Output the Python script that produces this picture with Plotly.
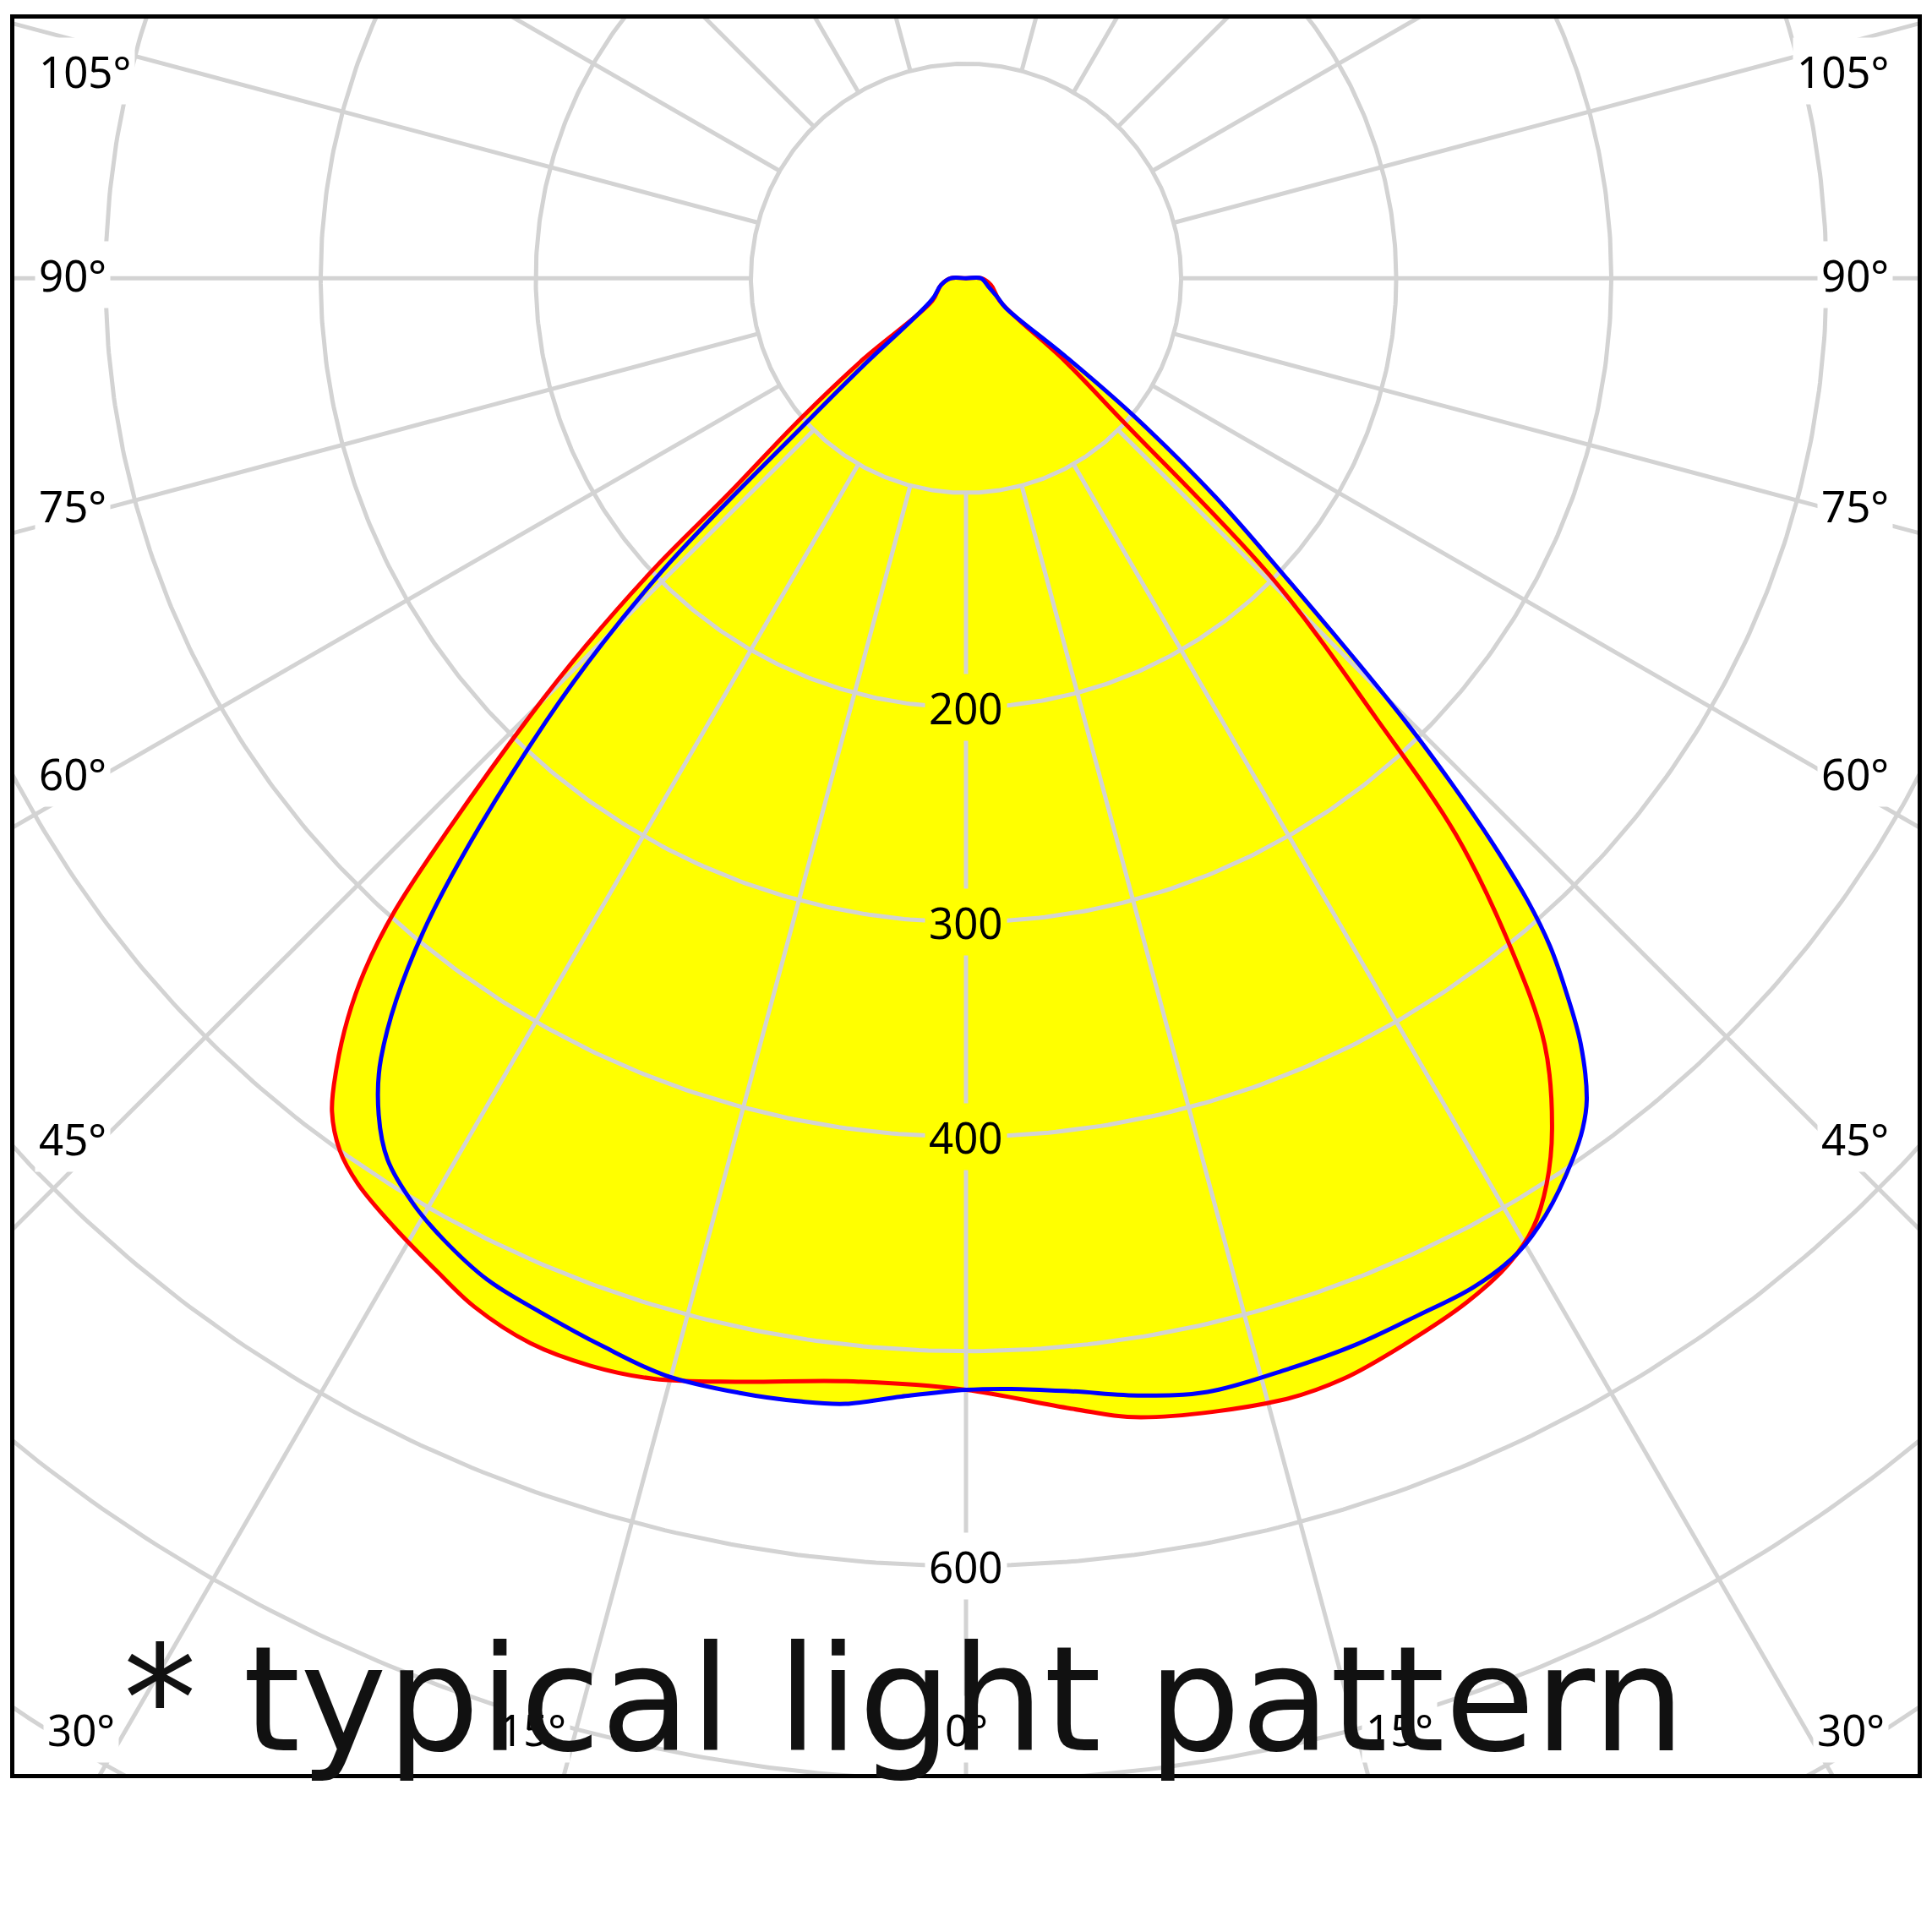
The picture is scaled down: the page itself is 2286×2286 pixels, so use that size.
import numpy as np
import plotly.graph_objects as go

# ---- luminous intensity data (cd/klm); angle from nadir in degrees, negative = left half ----
red_angle = [-180, -90, -75, -56, -51.7, -49.6, -47.7, -47.0, -45.9, -44.8, -43.15, -42.0, -40.9,
             -39.8, -38.5, -37.2, -35.6, -33.8, -31.0, -28.0, -25.5, -22.2, -19.0, -15.8, -11.6, -6.2, 0,
             5.3, 8.7, 15.7, 18.9, 22.3, 26.0, 28.8, 30.8, 32.6, 34.5, 37.0, 39.1, 41.3, 42.9,
             45.5, 47.6, 50.0, 56, 75, 90, 180]
red_cd = [0, 7, 12, 19, 61, 101, 149, 197, 246, 288, 351, 397, 427,
          449, 470, 487.5, 500, 508, 516, 524, 531, 536, 536, 533, 525, 517, 518,
          529, 537, 543, 542, 537, 531, 524, 515, 501, 481, 447, 401, 345, 281,
          200.6, 98, 60, 19, 12, 7, 0]

blue_angle = [-180, -90, -75, -58, -49.5, -47.8, -45.9, -43.4, -39.6, -36.8, -35.0, -33.2, -30.8,
              -28.5, -25.5, -22.2, -18.7, -15.3, -11.5, -8.3, -6.1, -3.3, 0,
              2.3, 5.4, 8.9, 12.2, 16.1, 20.0, 23.5, 26.7, 29.5, 31.7, 34.5, 35.9, 37.0, 38.7, 40.0,
              41.1, 42.0, 42.9, 43.8, 44.7, 47.0, 48.7, 50.6, 51.8, 53.3, 59, 70, 90, 180]
blue_cd = [0, 7, 12, 18.5, 63.5, 101, 200, 284, 396.5, 454, 476, 491, 502,
           509.5, 517, 521, 525.6, 530, 530, 529, 527.5, 522, 518,
           518, 521, 527, 531, 530, 529, 527, 526, 521.5, 513, 498, 489, 479.5, 457, 434,
           413, 390, 360, 326, 290, 199, 154, 100, 58.5, 23, 17, 11, 7, 0]

# ---- grid / ticks ----
grid_radii = [100, 200, 300, 400, 500, 600, 700, 800]
grid_angles = list(range(-165, 166, 15))
radial_tick_values = [200, 300, 400, 600]
radial_tick_bg = ["#FFFF00", "#FFFF00", "#FFFF00", "#FFFFFF"]
side_labels = ["105°", "90°", "75°", "60°", "45°"]
side_label_y = [96.5, 1.5, -105.8, -230.7, -401.0]
bottom_labels = ["30°", "15°", "0°", "15°", "30°"]
bottom_label_x = [-411.5, -201.5, 0, 201.5, 411.5]
bottom_label_y = -676.0
caption = "* typical light pattern"

YELLOW = "#FFFF00"
GRID = "#d3d3d3"
LABEL_FONT = dict(family="Noto Sans, DejaVu Sans, sans-serif", size=51, color="#000000")


def to_xy(angles, values):
    a = np.radians(np.asarray(angles, dtype=float))
    r = np.asarray(values, dtype=float)
    return r * np.sin(a), -r * np.cos(a)


rx, ry = to_xy(red_angle, red_cd)
bx, by = to_xy(blue_angle, blue_cd)

fig = go.Figure()

# yellow fill (union of both planes)
for x, y in [(rx, ry), (bx, by)]:
    fig.add_trace(go.Scatter(x=x, y=y, mode="lines", fill="toself", fillcolor=YELLOW,
                             line=dict(width=0, shape="spline", color=YELLOW),
                             hoverinfo="skip", showlegend=False))

# grid lines on top of the fill
gx, gy = [], []
t = np.linspace(0, 2 * np.pi, 721)
for rad in grid_radii:
    gx += list(rad * np.cos(t)) + [None]
    gy += list(rad * np.sin(t)) + [None]
for ang in grid_angles:
    cx, cy = to_xy([ang, ang], [100, 1000])
    gx += list(cx) + [None]
    gy += list(cy) + [None]
fig.add_trace(go.Scatter(x=gx, y=gy, mode="lines", line=dict(color=GRID, width=5),
                         hoverinfo="skip", showlegend=False, connectgaps=False))

# intensity curves
fig.add_trace(go.Scatter(x=rx, y=ry, mode="lines", line=dict(color="#FF0000", width=5, shape="spline"),
                         name="C0-C180", showlegend=False))
fig.add_trace(go.Scatter(x=bx, y=by, mode="lines", line=dict(color="#0000FF", width=5, shape="spline"),
                         name="C90-C270", showlegend=False))

annotations = []
for v, bg in zip(radial_tick_values, radial_tick_bg):
    annotations.append(dict(x=0, y=-v, xref="x", yref="y", text=str(v), showarrow=False,
                            font=LABEL_FONT, bgcolor=bg, borderpad=4,
                            xanchor="center", yanchor="middle"))
for txt, yv in zip(side_labels, side_label_y):
    annotations.append(dict(x=-433.0, y=yv, xref="x", yref="y", text=txt, showarrow=False,
                            font=LABEL_FONT, bgcolor="#FFFFFF", borderpad=4,
                            xanchor="left", yanchor="middle"))
    annotations.append(dict(x=431.0, y=yv, xref="x", yref="y", text=txt, showarrow=False,
                            font=LABEL_FONT, bgcolor="#FFFFFF", borderpad=4,
                            xanchor="right", yanchor="middle"))
for txt, xv in zip(bottom_labels, bottom_label_x):
    annotations.append(dict(x=xv, y=bottom_label_y, xref="x", yref="y", text=txt, showarrow=False,
                            font=LABEL_FONT, bgcolor="#FFFFFF", borderpad=4,
                            xanchor="center", yanchor="middle"))
annotations.append(dict(x=-392.5, y=-662.5, xref="x", yref="y", text=caption, showarrow=False,
                        font=dict(family="DejaVu Sans, sans-serif", size=173, color="#111111"),
                        xanchor="left", yanchor="middle"))

axis_common = dict(showgrid=False, zeroline=False, showticklabels=False, ticks="",
                   showline=True, mirror=True, linecolor="#000000", linewidth=5, fixedrange=True)
# page body has an 8 px default margin, so the figure is 8 px smaller than the window
fig.update_layout(
    width=2278, height=2278,
    margin=dict(l=9, r=17, t=9, b=187),
    paper_bgcolor="#FFFFFF", plot_bgcolor="#FFFFFF",
    showlegend=False,
    xaxis=dict(range=[-442.4, 442.4], **axis_common),
    yaxis=dict(range=[-697.0, 121.0], **axis_common),
    annotations=annotations,
)

fig.write_html("out.html")
